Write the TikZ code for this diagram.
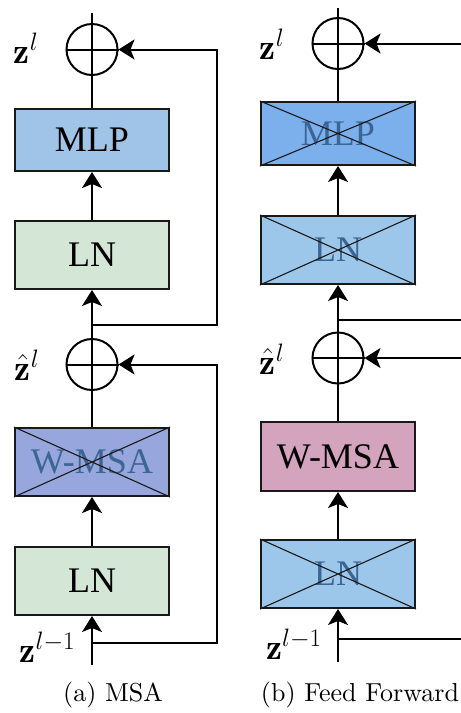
\RequirePackage{fix-cm}
\documentclass[tikz,border=0pt]{standalone}
\usepackage{fontspec}
\newfontfamily\boxfont{Liberation Serif}
\newfontfamily\capfont{lmroman10-regular}[Extension=.otf]
\usetikzlibrary{arrows.meta}

\definecolor{mlpa}{HTML}{A0C4E8}
\definecolor{lna}{HTML}{D4E6D6}
\definecolor{wmsaa}{HTML}{97A6DC}
\definecolor{mlpb}{HTML}{7BB0EC}
\definecolor{lnb}{HTML}{9DC7EA}
\definecolor{wmsab}{HTML}{D4A3BE}
\definecolor{fadetxt}{HTML}{3B6592}

\tikzset{
  wire/.style={line width=2pt, black},
  flow/.style={wire, -{Stealth[length=16pt,width=20pt,inset=4pt]}},
  block/.style={draw=black!90, line width=2.4pt, minimum width=153.6pt,
    inner sep=0pt, font=\boxfont\fontsize{36}{40}\selectfont},
  crossed/.style={block, text=fadetxt},
  xline/.style={line width=1.1pt, black!90},
  adder/.style={draw, circle, line width=2pt, minimum size=51pt, inner sep=0pt},
  sym/.style={inner sep=0pt, font=\fontsize{36}{40}\selectfont},
  caption/.style={inner sep=0pt, font=\capfont\fontsize{26}{30}\selectfont}
}

\begin{document}
\begin{tikzpicture}[x=1pt,y=-1pt]
\useasboundingbox (0,0) rectangle (461,713);

% ---------------- (a) MSA ----------------
\coordinate (a0) at (92,13);
\node[adder] (a1) at (92,49.5) {};
\node[block, fill=mlpa, minimum height=61.6pt] (amlp) at (92,140) {MLP};
\node[block, fill=lna, minimum height=67.6pt] (aln1) at (92,255) {LN};
\coordinate (aj1) at (92,325);
\coordinate (ar1) at (217,325);
\node[adder] (a2) at (92,364.5) {};
\node[crossed, fill=wmsaa, minimum height=67.6pt] (awm) at (92,462) {W-MSA};
\node[block, fill=lna, minimum height=67.6pt] (aln2) at (92,581) {LN};
\coordinate (aj2) at (92,643);
\coordinate (ar2) at (217,643);
\coordinate (ain) at (92,665);

\draw[xline] (awm.north west) -- (awm.south east) (awm.south west) -- (awm.north east);

\draw[wire] (a0) -- (amlp.north);
\draw[wire] (a1.west) -- (a1.east);
\draw[flow] (aln1.north) -- (amlp.south);
\draw[flow] (a2.north) -- (aln1.south);
\draw[flow] (aj1) -- (ar1) |- (a1.east);
\draw[wire] (a2.north) -- (awm.north);
\draw[wire] (a2.west) -- (a2.east);
\draw[flow] (aln2.north) -- (awm.south);
\draw[flow] (ain) -- (aln2.south);
\draw[flow] (aj2) -- (ar2) |- (a2.east);

\node[sym] (lza) at (26,48) {$\mathbf{z}^{l}$};
\node[sym] (lzha) at (27,365) {$\hat{\mathbf{z}}^{l}$};
\node[sym] (lzpa) at (47.5,647.5) {$\mathbf{z}^{l-1}$};
\node[caption] (capa) at (113,695) {(a) MSA};

% ---------------- (b) Feed Forward ----------------
\coordinate (b0) at (338,8);
\node[adder] (b1) at (338,43.5) {};
\node[crossed, fill=mlpb, minimum height=62.6pt] (bmlp) at (338,133.5) {MLP};
\node[crossed, fill=lnb, minimum height=67.6pt] (bln1) at (338,250) {LN};
\coordinate (bj1) at (338,320);
\coordinate (br1) at (461.6,320);
\node[adder] (b2) at (338,358) {};
\node[block, fill=wmsab, minimum height=68.6pt] (bwm) at (338,456.5) {W-MSA};
\node[crossed, fill=lnb, minimum height=67.6pt] (bln2) at (338,574) {LN};
\coordinate (bj2) at (338,639);
\coordinate (br2) at (461.6,639);
\coordinate (bin) at (338,662);

\draw[xline] (bmlp.north west) -- (bmlp.south east) (bmlp.south west) -- (bmlp.north east);
\draw[xline] (bln1.north west) -- (bln1.south east) (bln1.south west) -- (bln1.north east);
\draw[xline] (bln2.north west) -- (bln2.south east) (bln2.south west) -- (bln2.north east);

\draw[wire] (b0) -- (bmlp.north);
\draw[wire] (b1.west) -- (b1.east);
\draw[flow] (bln1.north) -- (bmlp.south);
\draw[flow] (b2.north) -- (bln1.south);
\draw[flow] (bj1) -- (br1) |- (b1.east);
\draw[wire] (b2.north) -- (bwm.north);
\draw[wire] (b2.west) -- (b2.east);
\draw[flow] (bln2.north) -- (bwm.south);
\draw[flow] (bin) -- (bln2.south);
\draw[flow] (bj2) -- (br2) |- (b2.east);

\node[sym] (lzb) at (272,44.5) {$\mathbf{z}^{l}$};
\node[sym] (lzhb) at (272,359) {$\hat{\mathbf{z}}^{l}$};
\node[sym] (lzpb) at (294,644) {$\mathbf{z}^{l-1}$};
\node[caption] (capb) at (360,695) {(b) Feed Forward};
\end{tikzpicture}
\end{document}
